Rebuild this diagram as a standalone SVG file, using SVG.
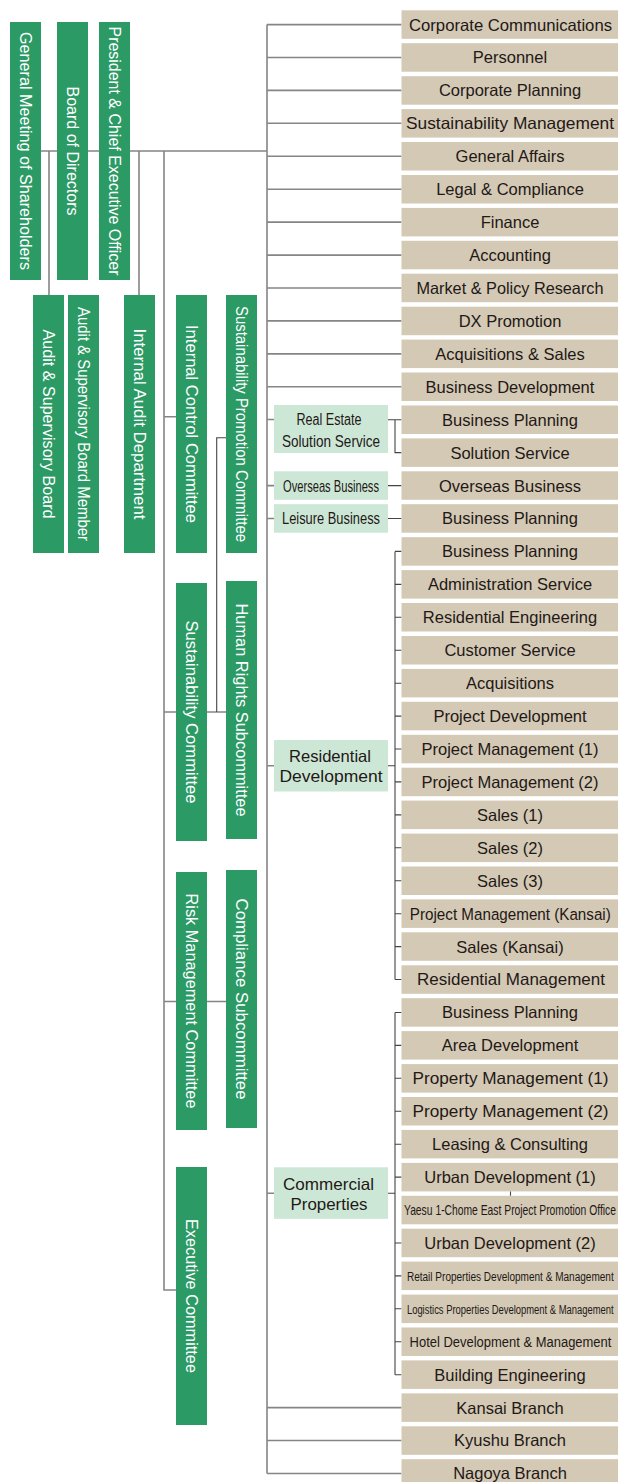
<svg xmlns="http://www.w3.org/2000/svg" width="618" height="1482" viewBox="0 0 618 1482">
<style>
.v{fill:#2b9a64}
.vt{fill:#fff;font-family:"Liberation Sans",Arial,sans-serif;font-size:16px;text-anchor:middle}
.r{fill:#d3c9b5}
.rt{fill:#231815;font-family:"Liberation Sans",Arial,sans-serif;font-size:16.5px;text-anchor:middle}
.g{fill:#cde7d7}
.gt{fill:#231815;font-family:"Liberation Sans",Arial,sans-serif;font-size:16px;text-anchor:middle}
.lm{stroke:#858585;stroke-width:1.6;fill:none}
.ls{stroke:#444;stroke-width:1.1;fill:none}
</style>
<rect width="618" height="1482" fill="#fff"/>
<g id="connectors">
<path class="lm" d="M41 151H267M267 24.5V1473.5M49 151V295M139 151V295M164 151V1290H176M164 416.7H176M164 712H226M164 1001.5H226"/>
<path class="ls" d="M216.7 712V437.7H226"/>
<path class="lm" d="M267 24.6H401.5M267 57.5H401.5M267 90.4H401.5M267 123.3H401.5M267 156.3H401.5M267 189.2H401.5M267 222.1H401.5M267 255.1H401.5M267 288H401.5M267 320.9H401.5M267 353.9H401.5M267 386.8H401.5M267 1407.6H401.5M267 1440.5H401.5M267 1473.5H401.5"/>
<path class="lm" d="M267 419.5H274M267 485.6H274M267 518.5H274M267 765.7H274M267 1193.3H274"/>
<path class="ls" d="M388 419.7H401.5M395 419.7V452.6H401.5M388 485.6H401.5M388 518.5H401.5"/>
<path class="ls" d="M388 765.7H395M395 551.4V979.5M395 551.4H401.5M395 584.4H401.5M395 617.3H401.5M395 650.2H401.5M395 683.2H401.5M395 716.1H401.5M395 749H401.5M395 781.9H401.5M395 814.9H401.5M395 847.8H401.5M395 880.7H401.5M395 913.7H401.5M395 946.6H401.5M395 979.5H401.5"/>
<path class="ls" d="M388 1193.3H395M395 1012.5V1374.7M395 1012.5H401.5M395 1045.4H401.5M395 1078.3H401.5M395 1111.2H401.5M395 1144.2H401.5M395 1177.1H401.5M395 1243H401.5M395 1275.9H401.5M395 1308.8H401.5M395 1341.8H401.5M395 1374.7H401.5"/>
<path class="ls" d="M510.5 1191.3V1195.8"/>
</g>
<g id="n-general-meeting"><rect class="v" x="10" y="22" width="31" height="258"/><text class="vt" transform="translate(25.5 151) rotate(90)" y="5.7" textLength="238" lengthAdjust="spacingAndGlyphs">General Meeting of Shareholders</text></g>
<g id="n-board"><rect class="v" x="57" y="22" width="31" height="258"/><text class="vt" transform="translate(72.5 151) rotate(90)" y="5.7" textLength="129" lengthAdjust="spacingAndGlyphs">Board of Directors</text></g>
<g id="n-president"><rect class="v" x="99" y="22" width="31" height="258"/><text class="vt" transform="translate(114.5 151) rotate(90)" y="5.7" textLength="249" lengthAdjust="spacingAndGlyphs">President &amp; Chief Executive Officer</text></g>
<g id="n-asb"><rect class="v" x="33" y="295" width="31" height="258"/><text class="vt" transform="translate(48.5 424) rotate(90)" y="5.7" textLength="189" lengthAdjust="spacingAndGlyphs">Audit &amp; Supervisory Board</text></g>
<g id="n-asbm"><rect class="v" x="68" y="295" width="31" height="258"/><text class="vt" transform="translate(83.5 424) rotate(90)" y="5.7" textLength="234" lengthAdjust="spacingAndGlyphs">Audit &amp; Supervisory Board Member</text></g>
<g id="n-iad"><rect class="v" x="124" y="295" width="31" height="258"/><text class="vt" transform="translate(139.5 424) rotate(90)" y="5.7" textLength="191" lengthAdjust="spacingAndGlyphs">Internal Audit Department</text></g>
<g id="n-icc"><rect class="v" x="176" y="295" width="31" height="258"/><text class="vt" transform="translate(191.5 424) rotate(90)" y="5.7" textLength="198" lengthAdjust="spacingAndGlyphs">Internal Control Committee</text></g>
<g id="n-spc"><rect class="v" x="226" y="295" width="31" height="258"/><text class="vt" transform="translate(241.5 424) rotate(90)" y="5.7" textLength="236" lengthAdjust="spacingAndGlyphs">Sustainability Promotion Committee</text></g>
<g id="n-sc"><rect class="v" x="176" y="583" width="31" height="258"/><text class="vt" transform="translate(191.5 712) rotate(90)" y="5.7" textLength="183" lengthAdjust="spacingAndGlyphs">Sustainability Committee</text></g>
<g id="n-hrs"><rect class="v" x="226" y="581" width="31" height="258"/><text class="vt" transform="translate(241.5 710) rotate(90)" y="5.7" textLength="213" lengthAdjust="spacingAndGlyphs">Human Rights Subcommittee</text></g>
<g id="n-rmc"><rect class="v" x="176" y="872" width="31" height="258"/><text class="vt" transform="translate(191.5 1001) rotate(90)" y="5.7" textLength="215" lengthAdjust="spacingAndGlyphs">Risk Management Committee</text></g>
<g id="n-cs"><rect class="v" x="226" y="870" width="31" height="258"/><text class="vt" transform="translate(241.5 999) rotate(90)" y="5.7" textLength="201" lengthAdjust="spacingAndGlyphs">Compliance Subcommittee</text></g>
<g id="n-ec"><rect class="v" x="176" y="1167" width="31" height="258"/><text class="vt" transform="translate(191.5 1296) rotate(90)" y="5.7" textLength="154" lengthAdjust="spacingAndGlyphs">Executive Committee</text></g>
<g id="g-res"><rect class="g" x="274" y="405" width="114" height="48"/><text class="gt" transform="translate(329 425) scale(0.786 1)">Real Estate</text><text class="gt" transform="translate(331 446.7) scale(0.849 1)">Solution Service</text></g>
<g id="g-overseas"><rect class="g" x="274" y="471.3" width="114" height="28.5"/><text class="gt" transform="translate(331 491.5) scale(0.697 1)">Overseas Business</text></g>
<g id="g-leisure"><rect class="g" x="274" y="504.2" width="114" height="28.5"/><text class="gt" transform="translate(331 524) scale(0.805 1)">Leisure Business</text></g>
<g id="g-residential"><rect class="g" x="274" y="740" width="114" height="51.5"/><text class="gt" style="font-size:16.5px" x="330" y="761.7" textLength="82" lengthAdjust="spacingAndGlyphs">Residential</text><text class="gt" style="font-size:16.5px" x="331" y="782.3" textLength="103" lengthAdjust="spacingAndGlyphs">Development</text></g>
<g id="g-commercial"><rect class="g" x="274" y="1167.3" width="114" height="51.5"/><text class="gt" style="font-size:16.5px" x="328.5" y="1190" textLength="91" lengthAdjust="spacingAndGlyphs">Commercial</text><text class="gt" style="font-size:16.5px" x="329" y="1210" textLength="77" lengthAdjust="spacingAndGlyphs">Properties</text></g>
<g id="r00"><rect class="r" x="401.5" y="10.3" width="216.5" height="28.5"/><text class="rt" x="510.5" y="30.5" textLength="203" lengthAdjust="spacingAndGlyphs">Corporate Communications</text></g>
<g id="r01"><rect class="r" x="401.5" y="43.2" width="216.5" height="28.5"/><text class="rt" x="510" y="63.4">Personnel</text></g>
<g id="r02"><rect class="r" x="401.5" y="76.2" width="216.5" height="28.5"/><text class="rt" x="510" y="96.3">Corporate Planning</text></g>
<g id="r03"><rect class="r" x="401.5" y="109.1" width="216.5" height="28.5"/><text class="rt" x="510" y="129.2" textLength="208" lengthAdjust="spacingAndGlyphs">Sustainability Management</text></g>
<g id="r04"><rect class="r" x="401.5" y="142" width="216.5" height="28.5"/><text class="rt" x="510" y="162.2">General Affairs</text></g>
<g id="r05"><rect class="r" x="401.5" y="175" width="216.5" height="28.5"/><text class="rt" x="510" y="195.1">Legal &amp; Compliance</text></g>
<g id="r06"><rect class="r" x="401.5" y="207.9" width="216.5" height="28.5"/><text class="rt" x="510" y="228">Finance</text></g>
<g id="r07"><rect class="r" x="401.5" y="240.8" width="216.5" height="28.5"/><text class="rt" x="510" y="261">Accounting</text></g>
<g id="r08"><rect class="r" x="401.5" y="273.7" width="216.5" height="28.5"/><text class="rt" x="510" y="293.9" textLength="187" lengthAdjust="spacingAndGlyphs">Market &amp; Policy Research</text></g>
<g id="r09"><rect class="r" x="401.5" y="306.7" width="216.5" height="28.5"/><text class="rt" x="510" y="326.8">DX Promotion</text></g>
<g id="r10"><rect class="r" x="401.5" y="339.6" width="216.5" height="28.5"/><text class="rt" x="510" y="359.8">Acquisitions &amp; Sales</text></g>
<g id="r11"><rect class="r" x="401.5" y="372.5" width="216.5" height="28.5"/><text class="rt" x="510" y="392.7">Business Development</text></g>
<g id="r12"><rect class="r" x="401.5" y="405.5" width="216.5" height="28.5"/><text class="rt" x="510" y="425.6">Business Planning</text></g>
<g id="r13"><rect class="r" x="401.5" y="438.4" width="216.5" height="28.5"/><text class="rt" x="510" y="458.5">Solution Service</text></g>
<g id="r14"><rect class="r" x="401.5" y="471.3" width="216.5" height="28.5"/><text class="rt" x="510" y="491.5">Overseas Business</text></g>
<g id="r15"><rect class="r" x="401.5" y="504.2" width="216.5" height="28.5"/><text class="rt" x="510" y="524.4">Business Planning</text></g>
<g id="r16"><rect class="r" x="401.5" y="537.2" width="216.5" height="28.5"/><text class="rt" x="510" y="557.3">Business Planning</text></g>
<g id="r17"><rect class="r" x="401.5" y="570.1" width="216.5" height="28.5"/><text class="rt" x="510" y="590.3">Administration Service</text></g>
<g id="r18"><rect class="r" x="401.5" y="603" width="216.5" height="28.5"/><text class="rt" x="510" y="623.2">Residential Engineering</text></g>
<g id="r19"><rect class="r" x="401.5" y="636" width="216.5" height="28.5"/><text class="rt" x="510" y="656.1">Customer Service</text></g>
<g id="r20"><rect class="r" x="401.5" y="668.9" width="216.5" height="28.5"/><text class="rt" x="510" y="689">Acquisitions</text></g>
<g id="r21"><rect class="r" x="401.5" y="701.8" width="216.5" height="28.5"/><text class="rt" x="510" y="722">Project Development</text></g>
<g id="r22"><rect class="r" x="401.5" y="734.8" width="216.5" height="28.5"/><text class="rt" x="510" y="754.9">Project Management (1)</text></g>
<g id="r23"><rect class="r" x="401.5" y="767.7" width="216.5" height="28.5"/><text class="rt" x="510" y="787.8">Project Management (2)</text></g>
<g id="r24"><rect class="r" x="401.5" y="800.6" width="216.5" height="28.5"/><text class="rt" x="510" y="820.8">Sales (1)</text></g>
<g id="r25"><rect class="r" x="401.5" y="833.6" width="216.5" height="28.5"/><text class="rt" x="510" y="853.7">Sales (2)</text></g>
<g id="r26"><rect class="r" x="401.5" y="866.5" width="216.5" height="28.5"/><text class="rt" x="510" y="886.6">Sales (3)</text></g>
<g id="r27"><rect class="r" x="401.5" y="899.4" width="216.5" height="28.5"/><text class="rt" transform="translate(510.3 919.6) scale(0.921 1)">Project Management (Kansai)</text></g>
<g id="r28"><rect class="r" x="401.5" y="932.3" width="216.5" height="28.5"/><text class="rt" x="510" y="952.5">Sales (Kansai)</text></g>
<g id="r29"><rect class="r" x="401.5" y="965.3" width="216.5" height="28.5"/><text class="rt" x="511" y="985.4" textLength="188" lengthAdjust="spacingAndGlyphs">Residential Management</text></g>
<g id="r30"><rect class="r" x="401.5" y="998.2" width="216.5" height="28.5"/><text class="rt" x="510" y="1018.4">Business Planning</text></g>
<g id="r31"><rect class="r" x="401.5" y="1031.1" width="216.5" height="28.5"/><text class="rt" x="510" y="1051.3">Area Development</text></g>
<g id="r32"><rect class="r" x="401.5" y="1064.1" width="216.5" height="28.5"/><text class="rt" x="510.5" y="1084.2" textLength="196" lengthAdjust="spacingAndGlyphs">Property Management (1)</text></g>
<g id="r33"><rect class="r" x="401.5" y="1097" width="216.5" height="28.5"/><text class="rt" x="510.5" y="1117.1" textLength="196" lengthAdjust="spacingAndGlyphs">Property Management (2)</text></g>
<g id="r34"><rect class="r" x="401.5" y="1129.9" width="216.5" height="28.5"/><text class="rt" x="510" y="1150.1">Leasing &amp; Consulting</text></g>
<g id="r35"><rect class="r" x="401.5" y="1162.9" width="216.5" height="28.5"/><text class="rt" x="510" y="1183">Urban Development (1)</text></g>
<g id="r36"><rect class="r" x="401.5" y="1195.8" width="216.5" height="28.5"/><text class="rt" style="font-size:14px" transform="translate(510 1215) scale(0.738 1)">Yaesu 1-Chome East Project Promotion Office</text></g>
<g id="r37"><rect class="r" x="401.5" y="1228.7" width="216.5" height="28.5"/><text class="rt" x="510" y="1248.9">Urban Development (2)</text></g>
<g id="r38"><rect class="r" x="401.5" y="1261.6" width="216.5" height="28.5"/><text class="rt" style="font-size:13.5px" transform="translate(510.3 1280.7) scale(0.744 1)">Retail Properties Development &amp; Management</text></g>
<g id="r39"><rect class="r" x="401.5" y="1294.6" width="216.5" height="28.5"/><text class="rt" style="font-size:13.5px" transform="translate(510.3 1313.6) scale(0.699 1)">Logistics Properties Development &amp; Management</text></g>
<g id="r40"><rect class="r" x="401.5" y="1327.5" width="216.5" height="28.5"/><text class="rt" style="font-size:15.5px" transform="translate(510.5 1347.3) scale(0.837 1)">Hotel Development &amp; Management</text></g>
<g id="r41"><rect class="r" x="401.5" y="1360.4" width="216.5" height="28.5"/><text class="rt" x="510" y="1380.6">Building Engineering</text></g>
<g id="r42"><rect class="r" x="401.5" y="1393.4" width="216.5" height="28.5"/><text class="rt" x="510" y="1413.5">Kansai Branch</text></g>
<g id="r43"><rect class="r" x="401.5" y="1426.3" width="216.5" height="28.5"/><text class="rt" x="510" y="1446.4">Kyushu Branch</text></g>
<g id="r44"><rect class="r" x="401.5" y="1459.2" width="216.5" height="28.5"/><text class="rt" x="510" y="1479.4">Nagoya Branch</text></g>
</svg>
